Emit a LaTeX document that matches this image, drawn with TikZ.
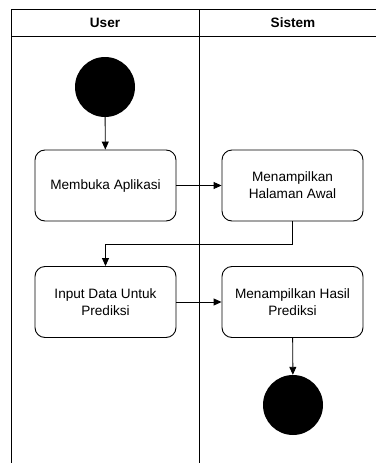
\documentclass[tikz,border=0pt]{standalone}
\usepackage{fontspec}
\setmainfont{Liberation Sans}
\usetikzlibrary{arrows.meta}
\begin{document}
\begin{tikzpicture}[x=1pt,y=-1pt,
  lane/.style={line width=0.9pt},
  act/.style={draw,line width=0.9pt,rounded corners=10pt,minimum width=141pt,minimum height=71pt,inner sep=0pt,align=center,font=\fontsize{13.6}{17}\selectfont},
  term/.style={circle,fill=black,minimum size=60pt,inner sep=0pt},
  flow/.style={line width=0.9pt,-{Triangle[length=8pt,width=7pt]}},
  head/.style={font=\fontsize{13.6}{17}\selectfont\bfseries}]
\useasboundingbox (0,0) rectangle (376,463);
\fill[white] (0,0) rectangle (376,463);
% swimlanes
\draw[lane] (376,9.5) -- (11.5,9.5) -- (11.5,463);
\draw[lane] (11.5,36) -- (376,36);
\draw[lane] (199,9.5) -- (199,463);
\node[head] (hu) at (105,23) {User};
\node[head] (hs) at (293,23) {Sistem};
% nodes
\node[term] (start) at (105,87) {};
\node[act] (a1) at (105.5,185.5) {Membuka Aplikasi};
\node[act] (a2) at (292.5,185.5) {Menampilkan\\Halaman Awal};
\node[act] (a3) at (105.5,302) {Input Data Untuk\\Prediksi};
\node[act] (a4) at (292.5,302) {Menampilkan Hasil\\Prediksi};
\node[term] (end) at (293,405) {};
% flows
\draw[flow] (start) -- (a1);
\draw[flow] (a1) -- (a2);
\draw[flow] (a2.south) -- ++(0,23) -| (a3.north);
\draw[flow] (a3) -- (a4);
\draw[flow] (a4) -- (end);
\end{tikzpicture}
\end{document}
